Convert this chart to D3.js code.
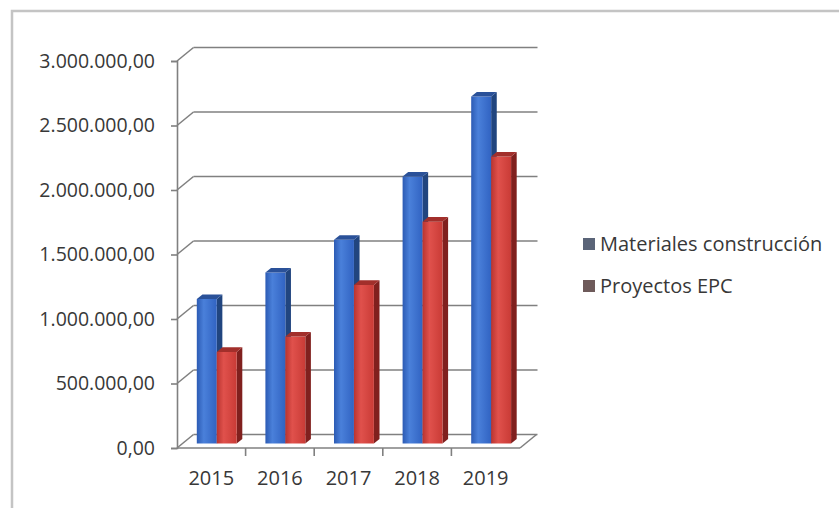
<!DOCTYPE html>
<html>
<head>
<meta charset="utf-8">
<script src="https://cdn.jsdelivr.net/npm/d3@7"></script>
<style>
  body { margin: 0; background: #fff; }
  text { font-family: "Open Sans", sans-serif; fill: #383838; }
</style>
</head>
<body>
<div id="chart"></div>
<script>
// data
const years = ["2015", "2016", "2017", "2018", "2019"];
const series = ["Materiales construcción", "Proyectos EPC"];
const materiales = [1120000, 1325000, 1580000, 2070000, 2690000];
const proyectos = [710000, 830000, 1230000, 1720000, 2225000];
const yTicks = [0, 500000, 1000000, 1500000, 2000000, 2500000, 3000000];

const W = 839, H = 508;
// 3d depth offset of the back wall
const DX = 16.5, DY = -13.5;
const f1 = 0.33, f2 = 0.67;

const svg = d3.select("#chart").append("svg")
  .attr("width", W).attr("height", H);

// frame
svg.append("rect")
  .attr("x", 12).attr("y", 11).attr("width", W).attr("height", H)
  .attr("fill", "#fff").attr("stroke", "#c4c4c4").attr("stroke-width", 2.5);

const x = d3.scaleBand().domain(years).range([177, 520]);
const xs = d3.scaleBand().domain(series).range([0, x.bandwidth()]).paddingOuter(0.72);
const y = d3.scaleLinear().domain([0, 3000000]).range([448, 61]);

const loc = d3.formatLocale({decimal: ",", thousands: ".", grouping: [3], currency: ["", ""]});
const fmt = loc.format(",.2f");

const grid = svg.append("g").attr("stroke", "#808080").attr("stroke-width", 1.6).attr("fill", "none");

// back wall gridlines and side wall lines
yTicks.forEach(v => {
  grid.append("line")
    .attr("x1", 177 + DX).attr("x2", 520 + DX + 1)
    .attr("y1", y(v) + DY).attr("y2", y(v) + DY);
  grid.append("line")
    .attr("x1", 177).attr("x2", 177 + DX)
    .attr("y1", y(v)).attr("y2", y(v) + DY);
});
// floor
grid.append("line").attr("x1", 177).attr("x2", 520).attr("y1", y(0)).attr("y2", y(0));
grid.append("line").attr("x1", 520).attr("x2", 520 + DX).attr("y1", y(0)).attr("y2", y(0) + DY);

// y axis
const yAxis = svg.append("g")
  .attr("transform", "translate(177,0)")
  .call(d3.axisLeft(y).tickValues(yTicks).tickFormat(fmt).tickSize(6).tickPadding(16));
yAxis.select(".domain").attr("stroke", "#808080").attr("stroke-width", 1.6);
yAxis.selectAll(".tick line").attr("stroke", "#808080").attr("stroke-width", 1.6);
yAxis.selectAll(".tick text")
  .style("font-family", "Open Sans").style("font-size", "19.5px").attr("fill", "#383838");

// x ticks at band edges
years.slice(1).forEach(d => {
  grid.append("line").attr("x1", x(d)).attr("x2", x(d)).attr("y1", y(0)).attr("y2", y(0) + 8);
});
svg.append("g").selectAll("text")
  .data(years).enter().append("text")
  .attr("x", d => x(d) + x.bandwidth() / 2)
  .attr("y", 485)
  .attr("text-anchor", "middle")
  .style("font-size", "20px")
  .text(d => d);

// gradients for front faces
const defs = svg.append("defs");
function grad(id, stops) {
  const g = defs.append("linearGradient").attr("id", id)
    .attr("x1", "0%").attr("x2", "100%").attr("y1", "0%").attr("y2", "0%");
  stops.forEach(s => g.append("stop").attr("offset", s[0]).attr("stop-color", s[1]));
}
grad("gBlue", [["0%", "#2c5bb4"], ["35%", "#4a80da"], ["100%", "#3163c2"]]);
grad("gRed", [["0%", "#b93430"], ["35%", "#e0514c"], ["100%", "#c93b36"]]);

const colors = {
  "Materiales construcción": {front: "url(#gBlue)", side: "#21457f", top: "#2a5199"},
  "Proyectos EPC": {front: "url(#gRed)", side: "#80201e", top: "#a22f2b"}
};

const bars = [];
years.forEach((yr, i) => {
  bars.push({year: yr, s: series[0], v: materiales[i]});
  bars.push({year: yr, s: series[1], v: proyectos[i]});
});

function pt(px, v, f) {
  return [px + f * DX, y(v) + f * DY];
}
const line = d3.line();

const bg = svg.append("g");
bars.forEach(b => {
  const x0 = x(b.year) + xs(b.s), x1 = x0 + xs.bandwidth();
  const c = colors[b.s];
  const g = bg.append("g");
  // right side
  g.append("path")
    .attr("d", line([pt(x1, 0, f1), pt(x1, 0, f2), pt(x1, b.v, f2), pt(x1, b.v, f1)]) + "Z")
    .attr("fill", c.side);
  // front
  g.append("path")
    .attr("d", line([pt(x0, 0, f1), pt(x1, 0, f1), pt(x1, b.v, f1), pt(x0, b.v, f1)]) + "Z")
    .attr("fill", c.front);
  // top
  g.append("path")
    .attr("d", line([pt(x0, b.v, f1), pt(x1, b.v, f1), pt(x1, b.v, f2), pt(x0, b.v, f2)]) + "Z")
    .attr("fill", c.top);
});

// legend
const leg = svg.append("g").attr("transform", "translate(583,0)");
series.forEach((s, i) => {
  const cy = 244 + i * 42;
  leg.append("rect")
    .attr("x", 0).attr("y", cy - 6).attr("width", 12).attr("height", 12)
    .attr("fill", i === 0 ? "#5a6478" : "#6e5a5a");
  leg.append("text")
    .attr("x", 17).attr("y", cy + 7)
    .style("font-size", "20px")
    .text(s);
});
</script>
</body>
</html>
